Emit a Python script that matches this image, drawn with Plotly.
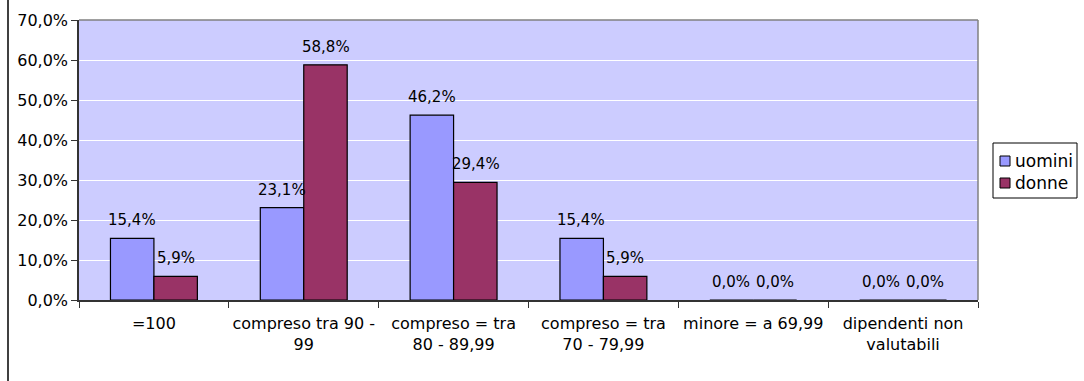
import plotly.graph_objects as go

categories = [
    "=100",
    "compreso tra 90 -<br>99",
    "compreso = tra<br>80 - 89,99",
    "compreso = tra<br>70 - 79,99",
    "minore = a 69,99",
    "dipendenti non<br>valutabili",
]
uomini = [0.154, 0.231, 0.462, 0.154, 0.0, 0.0]
donne = [0.059, 0.588, 0.294, 0.059, 0.0, 0.0]
y_ticks = [0, 0.1, 0.2, 0.3, 0.4, 0.5, 0.6, 0.7]

FONT = "DejaVu Sans, Liberation Sans, Arial, sans-serif"
COLORS = {"uomini": "#9999FF", "donne": "#993366"}
BAR_OFFSET = 22  # half of a single bar width, in px

# Plot area geometry in pixels (used to place the legend box)
W, H = 1084, 381
ML, MR, MT, MB = 79, 106, 20, 81
PW, PH = W - ML - MR, H - MT - MB


def px_x(x):
    return (x - ML) / PW


def px_y(y):
    return (H - MB - y) / PH


def pct(v):
    return f"{v * 100:.1f}%".replace(".", ",")


fig = go.Figure()
for name, series in (("uomini", uomini), ("donne", donne)):
    fig.add_trace(go.Bar(
        name=name, x=categories, y=series, showlegend=False,
        marker=dict(color=COLORS[name], line=dict(color="#000000", width=1.2)),
    ))

# Value labels above each bar
annotations = []
for series, shift in ((uomini, -BAR_OFFSET), (donne, BAR_OFFSET)):
    for cat, v in zip(categories, series):
        annotations.append(dict(
            x=cat, y=v, xref="x", yref="y", text=pct(v), showarrow=False,
            xanchor="center", yanchor="bottom", xshift=shift, yshift=7,
            font=dict(family=FONT, size=15, color="#000000"),
        ))

shapes = [
    # outer chart frame, left edge
    dict(type="line", xref="paper", yref="paper",
         x0=px_x(8), x1=px_x(8), y0=px_y(H), y1=px_y(0),
         line=dict(color="#000000", width=1.5)),
    # grey frame on the top and right sides of the plot area
    dict(type="line", xref="paper", yref="paper", x0=0, x1=1, y0=1, y1=1,
         line=dict(color="#808080", width=1.5)),
    dict(type="line", xref="paper", yref="paper", x0=1, x1=1, y0=0, y1=1,
         line=dict(color="#808080", width=1.5)),
    # legend box
    dict(type="rect", xref="paper", yref="paper",
         x0=px_x(993), x1=px_x(1077), y0=px_y(198), y1=px_y(143),
         line=dict(color="#000000", width=1), fillcolor="#FFFFFF"),
]

# Legend entries
for i, name in enumerate(("uomini", "donne")):
    cy = 161 + 22 * i
    shapes.append(dict(
        type="rect", xref="paper", yref="paper",
        x0=px_x(1000), x1=px_x(1010), y0=px_y(cy + 5), y1=px_y(cy - 5),
        line=dict(color="#000000", width=1), fillcolor=COLORS[name],
    ))
    annotations.append(dict(
        x=px_x(1013), y=px_y(cy), xref="paper", yref="paper", text=name,
        showarrow=False, xanchor="left", yanchor="middle",
        font=dict(family=FONT, size=17, color="#000000"),
    ))

fig.update_layout(
    width=W, height=H,
    margin=dict(l=ML, r=MR, t=MT, b=MB, autoexpand=False),
    paper_bgcolor="#FFFFFF",
    plot_bgcolor="#CCCCFF",
    separators=",.",
    barmode="group",
    bargap=0.42,
    bargroupgap=0,
    font=dict(family=FONT, size=16, color="#000000"),
    showlegend=False,
    annotations=annotations,
    shapes=shapes,
)

fig.update_xaxes(
    type="category",
    showline=True, linecolor="#333333", linewidth=1.5,
    ticks="outside", tickson="boundaries", ticklen=6, tickcolor="#333333",
    tickangle=0, automargin=False, ticklabelstandoff=8,
    tickfont=dict(family=FONT, size=16, color="#000000"),
    showgrid=False,
)
fig.update_yaxes(
    range=[0, 0.7],
    tickvals=y_ticks,
    tickformat=".1%",
    showline=True, linecolor="#333333", linewidth=1.5,
    ticks="outside", ticklen=6, tickcolor="#333333",
    automargin=False,
    tickfont=dict(family=FONT, size=16, color="#000000"),
    showgrid=True, gridcolor="#FFFFFF", gridwidth=1,
    zeroline=False,
)

fig.write_html("out.html")
